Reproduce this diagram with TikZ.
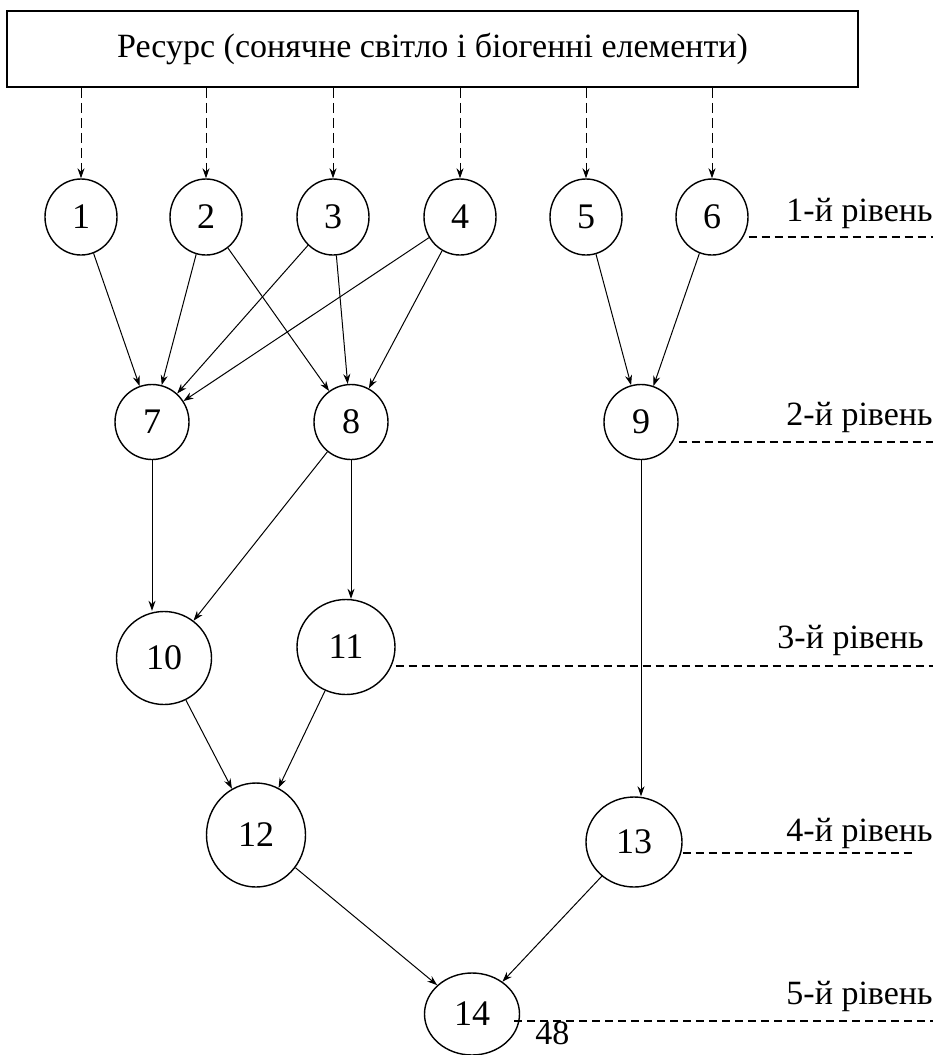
\documentclass[tikz,border=0pt]{standalone}
\usepackage{fontspec}
\setmainfont{Liberation Serif}
\usetikzlibrary{arrows.meta,shapes.geometric}
\begin{document}
\begin{tikzpicture}[x=0.5pt,y=-0.5pt,
  every node/.style={font=\fontsize{17}{20}\selectfont},
  vtx/.style={draw,ellipse,inner sep=0pt,line width=0.7pt,font=\fontsize{18}{20}\selectfont},
  arr/.style={line width=0.5pt,-{Stealth[length=5pt,width=3.5pt]}},
  darr/.style={arr,dash pattern=on 5pt off 2.5pt},
  lvl/.style={line width=0.6pt,dash pattern=on 4pt off 2.5pt},
  lab/.style={anchor=base east,inner sep=0pt}]
\useasboundingbox (0,0) rectangle (937,1055);

\node[draw,line width=0.8pt,minimum width=425.5pt,minimum height=38pt,inner sep=0pt] (res) at (432.5,49) {Ресурс (сонячне світло і біогенні елементи)};

\foreach \i/\x in {1/81,2/206,3/333,4/460,5/586,6/712}
  \node[vtx,minimum width=36pt,minimum height=38pt] (n\i) at (\x,217) {\i};

\node[vtx,minimum width=37pt,minimum height=37.5pt] (n7) at (152,422) {7};
\node[vtx,minimum width=37pt,minimum height=37.5pt] (n8) at (351,422) {8};
\node[vtx,minimum width=37pt,minimum height=37.5pt] (n9) at (641,422) {9};
\node[vtx,minimum width=47.5pt,minimum height=46.5pt] (n10) at (164,658) {10};
\node[vtx,minimum width=49pt,minimum height=47.5pt] (n11) at (346,647) {11};
\node[vtx,minimum width=49.5pt,minimum height=52pt] (n12) at (256,835) {12};
\node[vtx,minimum width=48pt,minimum height=45pt] (n13) at (634,842) {13};
\node[vtx,minimum width=47.5pt,minimum height=41pt] (n14) at (472,1014) {14};

% resource arrows
\foreach \i in {1,...,6}
  \draw[darr] (res.south -| n\i) -- (n\i);

% level 1 -> 2
\draw[arr] (n1) -- (n7);
\draw[arr] (n2) -- (n7);
\draw[arr] (n3) -- (n7);
\draw[arr] (n4) -- (n7);
\draw[arr] (n2) -- (n8);
\draw[arr] (n3) -- (n8);
\draw[arr] (n4) -- (n8);
\draw[arr] (n5) -- (n9);
\draw[arr] (n6) -- (n9);
% level 2 -> 3
\draw[arr] (n7.south) -- (n7.south |- n10.north);
\draw[arr] (n8) -- (n10);
\draw[arr] (n8.south) -- (n8.south |- n11.north);
% level 3 -> 4
\draw[arr] (n10) -- (n12);
\draw[arr] (n11) -- (n12);
\draw[arr] (n9.south) -- (n9.south |- n13.north);
% level 4 -> 5
\draw[arr] (n12) -- (n14);
\draw[arr] (n13) -- (n14);

% level labels
\coordinate (L1) at (933,237);
\coordinate (L2) at (933,442);
\coordinate (L3) at (933,666);
\coordinate (L4) at (912,853);
\coordinate (L5) at (933,1021);
\node[lab] (t1) at (933,221) {1-й рівень};
\node[lab] (t2) at (933,425) {2-й рівень};
\node[lab] (t3) at (924,648) {3-й рівень};
\node[lab] (t4) at (933,841) {4-й рівень};
\node[lab] (t5) at (933,1004) {5-й рівень};
\draw[lvl] (n6.east |- L1) -- (L1);
\draw[lvl] (n9.east |- L2) -- (L2);
\draw[lvl] (n11.east |- L3) -- (L3);
\draw[lvl] (n13.east |- L4) -- (L4);
\draw[lvl] (n14.east |- L5) ++(-6,0) -- (L5);

\node[anchor=base west,inner sep=0pt] (pg) at (535,1044) {48};
\end{tikzpicture}
\end{document}
